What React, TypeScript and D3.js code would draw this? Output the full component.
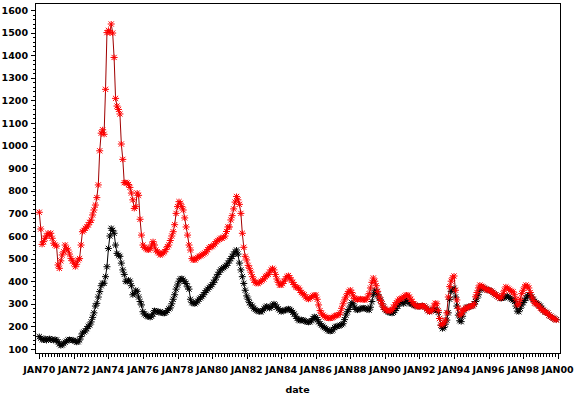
import React, { useEffect, useRef } from 'react';
import * as d3 from 'd3';

// monthly values, Jan 1970 .. Dec 1999 (one row per year)
const startYear = 1970;

const lowerSeries: number[] = [
  155, 148, 142, 140, 146, 138, 144, 146, 140, 143, 138, 142,
  140, 132, 122, 115, 118, 125, 130, 135, 140, 142, 140, 138,
  138, 135, 130, 132, 140, 155, 170, 175, 180, 190, 200, 206,
  220, 240, 260, 290, 302, 330, 354, 380, 391, 391, 420, 464,
  545, 600, 634, 625, 612, 560, 523, 515, 510, 480, 450, 430,
  400, 398, 405, 400, 380, 340, 345, 360, 355, 330, 310, 295,
  265, 255, 250, 245, 243, 240, 245, 255, 270, 268, 265, 262,
  265, 260, 258, 258, 262, 270, 278, 282, 300, 320, 340, 365,
  383, 400, 410, 412, 405, 398, 390, 375, 365, 320, 305, 302,
  300, 305, 312, 320, 326, 332, 340, 350, 358, 365, 372, 378,
  385, 395, 405, 418, 430, 440, 450, 455, 460, 465, 470, 480,
  490, 500, 510, 520, 530, 538, 520, 480, 450, 420, 390, 360,
  335, 320, 305, 295, 290, 280, 275, 270, 268, 265, 265, 270,
  278, 285, 290, 285, 280, 285, 295, 300, 295, 285, 278, 272,
  265, 268, 270, 272, 275, 278, 275, 270, 262, 255, 245, 235,
  228, 225, 230, 228, 225, 222, 220, 218, 220, 225, 235, 243,
  240, 230, 220, 212, 205, 200, 195, 190, 185, 180, 178, 180,
  185, 195, 200, 200, 202, 205, 208, 212, 230, 250, 265, 275,
  290, 305, 300, 285, 275, 272, 275, 278, 280, 282, 280, 278,
  275, 272, 285, 310, 340, 360, 355, 340, 325, 317, 300, 285,
  275, 270, 265, 262, 260, 258, 262, 270, 280, 290, 300, 310,
  305, 300, 310, 320, 310, 303, 300, 298, 295, 292, 290, 287,
  288, 290, 292, 290, 285, 278, 270, 265, 268, 272, 275, 273,
  272, 262, 235, 205, 190, 195, 210, 228, 260, 320, 355, 365,
  369, 330, 290, 250, 225, 221, 245, 270, 280, 285, 285, 288,
  290, 292, 298, 310, 325, 340, 360, 375, 372, 368, 365, 362,
  361, 358, 355, 350, 345, 340, 335, 330, 325, 324, 326, 328,
  331, 335, 330, 325, 320, 317, 310, 290, 268, 265, 280, 295,
  305, 315, 325, 335, 340, 338, 330, 320, 310, 305, 300, 295,
  290, 280, 272, 265, 262, 258, 250, 245, 240, 236, 232, 230,
];

const upperSeries: number[] = [
  705, 631, 563, 575, 590, 600, 612, 605, 612, 590, 568, 560,
  555, 472, 457, 490, 516, 530, 560, 545, 538, 520, 501, 490,
  480, 464, 475, 494, 500, 560, 619, 625, 634, 640, 649, 660,
  670, 693, 715, 737, 770, 826, 977, 1055, 1070, 1050, 1249, 1500,
  1510, 1500, 1538, 1498, 1390, 1209, 1175, 1160, 1140, 1007, 939, 836,
  836, 835, 828, 815, 790, 760, 722, 730, 790, 780, 674, 604,
  560, 550, 545, 540, 538, 545, 560, 575, 560, 538, 530, 525,
  516, 520, 525, 530, 540, 553, 560, 580, 600, 619, 650, 700,
  730, 752, 745, 730, 715, 680, 640, 604, 560, 538, 500, 494,
  494, 500, 505, 510, 512, 516, 520, 525, 530, 540, 548, 553,
  553, 560, 565, 575, 580, 585, 590, 590, 595, 600, 620, 640,
  640, 671, 690, 720, 750, 775, 760, 740, 700, 612, 550, 510,
  494, 470, 457, 440, 420, 405, 395, 391, 390, 395, 400, 405,
  410, 420, 425, 430, 440, 450, 457, 450, 430, 410, 395, 383,
  383, 390, 400, 410, 420, 425, 415, 405, 395, 385, 375, 372,
  369, 360, 350, 345, 340, 330, 324, 320, 325, 330, 335, 338,
  339, 320, 295, 270, 258, 250, 245, 240, 238, 236, 236, 238,
  240, 245, 248, 250, 252, 260, 280, 300, 317, 330, 345, 355,
  361, 350, 335, 324, 320, 318, 320, 322, 320, 318, 317, 320,
  330, 345, 370, 395, 414, 400, 380, 355, 331, 315, 300, 285,
  278, 272, 270, 268, 270, 275, 285, 295, 305, 312, 320, 322,
  325, 330, 335, 339, 338, 330, 320, 310, 300, 295, 290, 287,
  288, 290, 292, 290, 285, 278, 270, 265, 268, 275, 290, 303,
  300, 270, 235, 206, 210, 215, 228, 260, 330, 376, 400, 415,
  423, 360, 317, 280, 250, 255, 265, 275, 280, 282, 285, 288,
  290, 292, 300, 331, 350, 370, 383, 378, 375, 370, 365, 362,
  361, 358, 355, 350, 345, 340, 335, 330, 324, 330, 345, 360,
  375, 370, 365, 360, 355, 353, 340, 320, 295, 300, 320, 345,
  360, 375, 383, 378, 370, 350, 330, 315, 303, 300, 295, 290,
  280, 275, 270, 265, 262, 258, 250, 245, 240, 236, 232, 228,
];

const yTicks = d3.range(100, 1700, 100);
const xTickYears = d3.range(1970, 2002, 2);
const monthNames = ['JAN'];

const font = '"DejaVu Sans", sans-serif';

const App = () => {
  const svgRef = useRef<SVGSVGElement>(null);

  useEffect(() => {
    const svg = d3.select(svgRef.current);
    svg.selectAll('*').remove();

    const frame = { left: 35, right: 560, top: 3, bottom: 353 };

    const x = d3
      .scaleTime()
      .domain([new Date(1970, 0, 1), new Date(2000, 0, 1)])
      .range([39.3, 557.7]);
    const y = d3.scaleLinear().domain([100, 1600]).range([349, 10]);

    const toPoints = (vals: number[]) =>
      vals.map((v, i) => ({ date: new Date(startYear + Math.floor(i / 12), i % 12, 1), v }));

    // frame
    svg
      .append('rect')
      .attr('x', frame.left + 0.5)
      .attr('y', frame.top + 0.5)
      .attr('width', frame.right - frame.left)
      .attr('height', frame.bottom - frame.top)
      .attr('fill', 'none')
      .attr('stroke', 'black')
      .attr('stroke-width', 1);

    // y axis ticks
    const yAxis = svg.append('g');
    yAxis
      .selectAll('line.major')
      .data(yTicks)
      .enter()
      .append('line')
      .attr('x1', frame.left - 4)
      .attr('x2', frame.left)
      .attr('y1', (d) => Math.round(y(d)) + 0.5)
      .attr('y2', (d) => Math.round(y(d)) + 0.5)
      .attr('stroke', 'black');
    const yMinor = d3.range(120, 1600, 20).filter((d) => d % 100 !== 0);
    yAxis
      .selectAll('line.minor')
      .data(yMinor)
      .enter()
      .append('line')
      .attr('x1', frame.left - 2)
      .attr('x2', frame.left)
      .attr('y1', (d) => Math.round(y(d)) + 0.5)
      .attr('y2', (d) => Math.round(y(d)) + 0.5)
      .attr('stroke', 'black');
    yAxis
      .selectAll('text')
      .data(yTicks)
      .enter()
      .append('text')
      .attr('x', frame.left - 7)
      .attr('y', (d) => y(d) + 3.5)
      .attr('text-anchor', 'end')
      .attr('font-family', font)
      .attr('font-weight', 'bold')
      .attr('font-size', 9.5)
      .text((d) => d);

    // x axis ticks
    const xAxis = svg.append('g');
    const minorDates = d3.timeMonth
      .every(2)!
      .range(new Date(1970, 0, 1), new Date(2000, 0, 2))
      .filter((d) => !(d.getMonth() === 0 && d.getFullYear() % 2 === 0));
    xAxis
      .selectAll('line.minor')
      .data(minorDates)
      .enter()
      .append('line')
      .attr('x1', (d) => Math.round(x(d)) + 0.5)
      .attr('x2', (d) => Math.round(x(d)) + 0.5)
      .attr('y1', frame.bottom)
      .attr('y2', frame.bottom + 4)
      .attr('stroke', 'black');
    xAxis
      .selectAll('line.major')
      .data(xTickYears)
      .enter()
      .append('line')
      .attr('x1', (d) => Math.round(x(new Date(d, 0, 1))) + 0.5)
      .attr('x2', (d) => Math.round(x(new Date(d, 0, 1))) + 0.5)
      .attr('y1', frame.bottom)
      .attr('y2', frame.bottom + 6)
      .attr('stroke', 'black');
    xAxis
      .selectAll('text')
      .data(xTickYears)
      .enter()
      .append('text')
      .attr('x', (d) => x(new Date(d, 0, 1)))
      .attr('y', 373)
      .attr('text-anchor', 'middle')
      .attr('font-family', font)
      .attr('font-weight', 'bold')
      .attr('font-size', 9.5)
      .text((d) => `${monthNames[0]}${String(d % 100).padStart(2, '0')}`);

    svg
      .append('text')
      .attr('x', (frame.left + frame.right) / 2)
      .attr('y', 393)
      .attr('text-anchor', 'middle')
      .attr('font-family', font)
      .attr('font-weight', 'bold')
      .attr('font-size', 9.5)
      .text('date');

    const line = d3
      .line<{ date: Date; v: number }>()
      .x((d) => x(d.date))
      .y((d) => y(d.v));

    const star = 'M-3.5,0H3.5M-2.6,-2.6L2.6,2.6M-2.6,2.6L2.6,-2.6M0,-3V3';

    const drawSeries = (vals: number[], lineColor: string, markColor: string) => {
      const pts = toPoints(vals);
      const g = svg.append('g');
      g.append('path')
        .datum(pts)
        .attr('d', line)
        .attr('fill', 'none')
        .attr('stroke', lineColor)
        .attr('stroke-width', 1);
      g.selectAll('path.mark')
        .data(pts)
        .enter()
        .append('path')
        .attr('class', 'mark')
        .attr('transform', (d) => `translate(${x(d.date)},${y(d.v)})`)
        .attr('d', star)
        .attr('stroke', markColor)
        .attr('stroke-width', 1)
        .attr('fill', 'none');
    };

    drawSeries(lowerSeries, 'black', 'black');
    drawSeries(upperSeries, '#a00000', '#ff0000');
  }, []);

  return (
    <svg
      ref={svgRef}
      width={575}
      height={397}
      style={{ position: 'absolute', left: 0, top: 0, background: '#fff' }}
    />
  );
};

export default App;
